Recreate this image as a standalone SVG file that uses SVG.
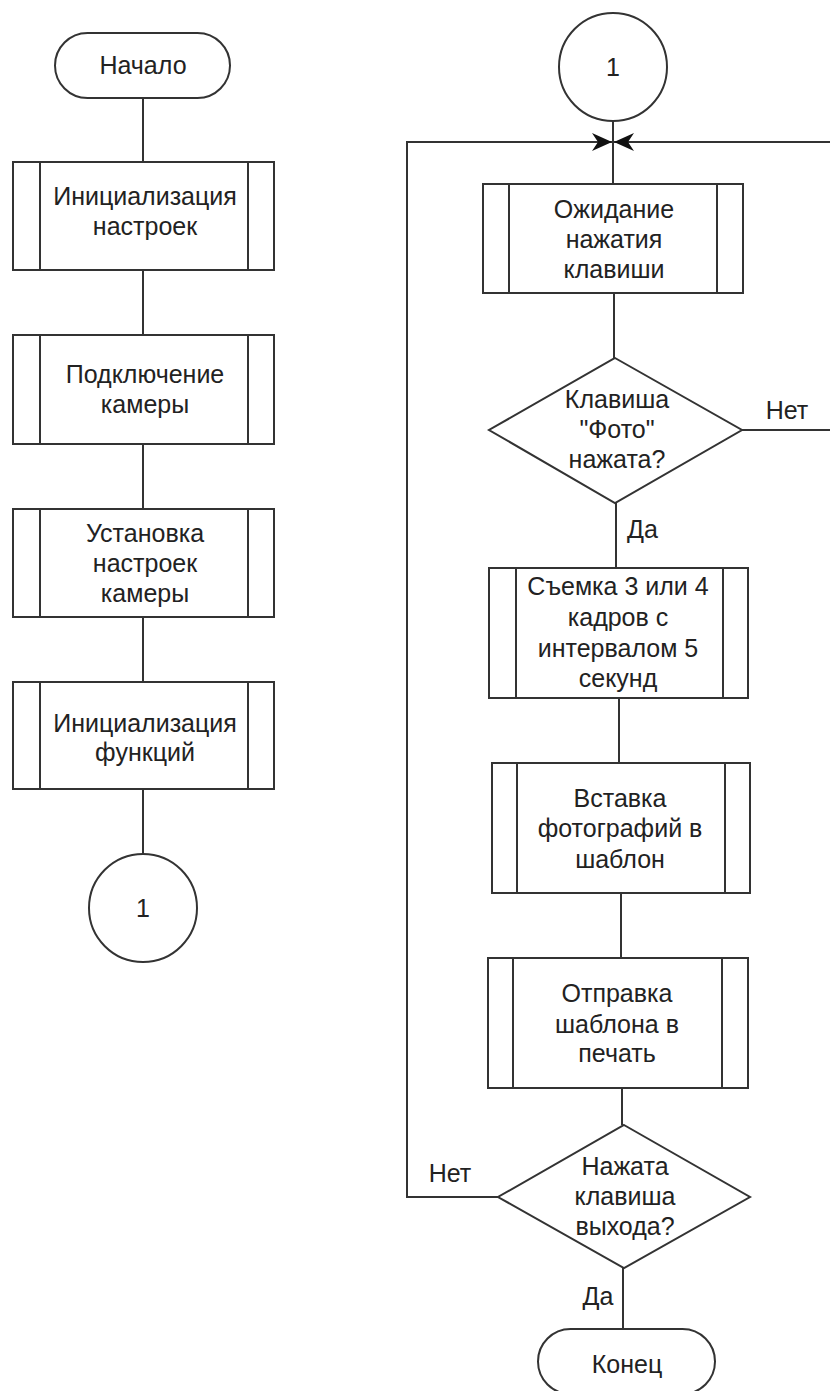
<svg xmlns="http://www.w3.org/2000/svg" width="830" height="1391" viewBox="0 0 830 1391">
<defs>
<style>
.s{fill:#fff;stroke:#333;stroke-width:2}
.l{fill:none;stroke:#333;stroke-width:2}
.t{font-family:"Liberation Sans",Arial,sans-serif;font-size:25px;fill:#222;text-anchor:middle}
.lb{font-family:"Liberation Sans",Arial,sans-serif;font-size:25px;fill:#222}
</style>
<marker id="arr" markerUnits="userSpaceOnUse" markerWidth="22" markerHeight="18" refX="20" refY="9" orient="auto">
<path d="M0,0 L20,9 L0,18 L6,9 z" fill="#111"/>
</marker>
</defs>
<rect width="830" height="1391" fill="#fff"/>
<g id="connectors">
<path class="l" d="M143,98 V162"/>
<path class="l" d="M143,270 V335"/>
<path class="l" d="M143,444 V509"/>
<path class="l" d="M143,617 V682"/>
<path class="l" d="M143,789 V854"/>
<path class="l" d="M613,121 V184"/>
<path class="l" d="M614,293 V358"/>
<path class="l" d="M616,503 V568"/>
<path class="l" d="M619,698 V763"/>
<path class="l" d="M621,893 V958"/>
<path class="l" d="M622,1088 V1125"/>
<path class="l" d="M623,1268 V1329"/>
<path class="l" d="M498,1197 H407 V142 H612" marker-end="url(#arr)"/>
<path class="l" d="M742,430 H836 V142 H614" marker-end="url(#arr)"/>
<text class="lb" x="787" y="419" text-anchor="middle">Нет</text>
<text class="lb" x="627" y="538">Да</text>
<text class="lb" x="450" y="1182" text-anchor="middle">Нет</text>
<text class="lb" x="598" y="1305" text-anchor="middle">Да</text>
</g>
<g id="start">
<rect class="s" x="55" y="33" width="175" height="65" rx="32.5"/>
<text class="t" x="143" y="74">Начало</text>
</g>
<g id="init-settings">
<rect class="s" x="13" y="162" width="261" height="108"/>
<path class="l" d="M40,162 V270 M248,162 V270"/>
<text class="t" x="145" y="205">Инициализация</text>
<text class="t" x="145" y="235">настроек</text>
</g>
<g id="connect-camera">
<rect class="s" x="13" y="335" width="261" height="109"/>
<path class="l" d="M40,335 V444 M248,335 V444"/>
<text class="t" x="145" y="383">Подключение</text>
<text class="t" x="145" y="413">камеры</text>
</g>
<g id="camera-settings">
<rect class="s" x="13" y="509" width="261" height="108"/>
<path class="l" d="M40,509 V617 M248,509 V617"/>
<text class="t" x="145" y="542">Установка</text>
<text class="t" x="145" y="572">настроек</text>
<text class="t" x="145" y="602">камеры</text>
</g>
<g id="init-functions">
<rect class="s" x="13" y="682" width="261" height="107"/>
<path class="l" d="M40,682 V789 M248,682 V789"/>
<text class="t" x="145" y="732">Инициализация</text>
<text class="t" x="145" y="761">функций</text>
</g>
<g id="conn-left">
<circle class="s" cx="143" cy="908" r="54"/>
<text class="t" x="143" y="917">1</text>
</g>
<g id="conn-right">
<circle class="s" cx="613" cy="67" r="54"/>
<text class="t" x="613" y="76">1</text>
</g>
<g id="wait-key">
<rect class="s" x="483" y="184" width="260" height="109"/>
<path class="l" d="M509,184 V293 M717,184 V293"/>
<text class="t" x="614" y="218">Ожидание</text>
<text class="t" x="614" y="248">нажатия</text>
<text class="t" x="614" y="278">клавиши</text>
</g>
<g id="photo-key">
<polygon class="s" points="615,358 742,430 615,503 489,430"/>
<text class="t" x="617" y="408">Клавиша</text>
<text class="t" x="617" y="438">"Фото"</text>
<text class="t" x="617" y="468">нажата?</text>
</g>
<g id="shoot">
<rect class="s" x="489" y="568" width="259" height="130"/>
<path class="l" d="M516,568 V698 M723,568 V698"/>
<text class="t" x="618" y="595">Съемка 3 или 4</text>
<text class="t" x="618" y="626">кадров с</text>
<text class="t" x="618" y="657">интервалом 5</text>
<text class="t" x="618" y="687">секунд</text>
</g>
<g id="insert">
<rect class="s" x="492" y="763" width="258" height="130"/>
<path class="l" d="M517,763 V893 M725,763 V893"/>
<text class="t" x="620" y="807">Вставка</text>
<text class="t" x="620" y="837">фотографий в</text>
<text class="t" x="620" y="868">шаблон</text>
</g>
<g id="print">
<rect class="s" x="488" y="958" width="260" height="130"/>
<path class="l" d="M513,958 V1088 M722,958 V1088"/>
<text class="t" x="617" y="1002">Отправка</text>
<text class="t" x="617" y="1033">шаблона в</text>
<text class="t" x="617" y="1062">печать</text>
</g>
<g id="exit-key">
<polygon class="s" points="624,1125 750,1197 624,1268 498,1197"/>
<text class="t" x="625" y="1175">Нажата</text>
<text class="t" x="625" y="1205">клавиша</text>
<text class="t" x="625" y="1235">выхода?</text>
</g>
<g id="end">
<rect class="s" x="538" y="1329" width="177" height="65" rx="32.5"/>
<text class="t" x="627" y="1373">Конец</text>
</g>
</svg>
